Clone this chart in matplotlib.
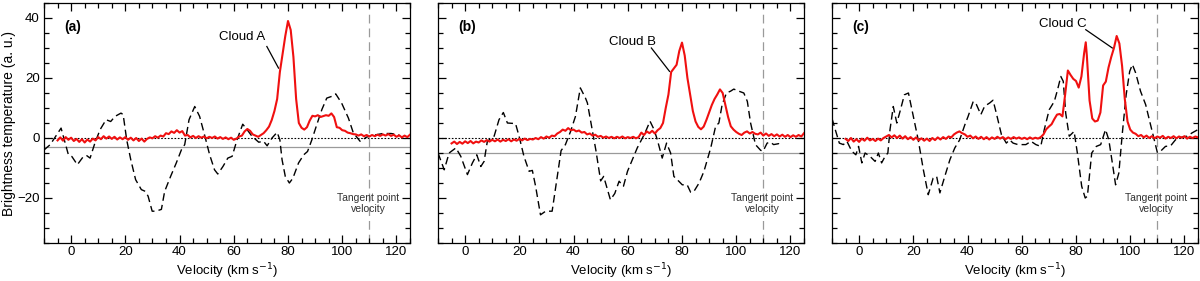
import numpy as np
import matplotlib
matplotlib.use("Agg")
import matplotlib.pyplot as plt

plt.rcParams['font.family'] = ['Liberation Sans', 'DejaVu Sans']

# ---------------- data ----------------
# red spectra: channels every 1 km/s from -5 to 125
red_vel = list(range(-5, 126))

red_tb_a = [
    -0.8, 0.2, -0.9, 0.3, -0.6, 0.1, -1.0, -0.3, -1.3, -0.4,     # -5..4
    -1.5, -0.5, -1.2, -0.2, -0.8, 0.3, -0.4, 0.6, -0.2, 0.5,     # 5..14
    -0.3, 0.4, -0.5, 0.2, -0.4, 0.3, -0.6, 0.1, -0.8, 0.0,       # 15..24
    -1.0, -0.2, -1.2, -0.3, 0.2, -0.1, 0.6, 0.1, 0.8, 0.5,       # 25..34
    1.6, 1.3, 2.2, 1.7, 2.6, 1.8, 2.3, 0.8, 1.0, 0.2,            # 35..44
    0.7, 0.0, 0.6, 0.1, 0.5, -0.1, 0.4, 0.0, 0.5, -0.2,          # 45..54
    0.3, -0.3, 0.2, -0.4, 0.1, -0.6, -0.2, 0.5, 0.8, 2.2,        # 55..64
    3.0, 2.4, 1.2, 0.8, 0.4, 1.0, 1.6, 2.6, 3.8, 6.0,            # 65..74
    9.0, 13.0, 22.0, 28.0, 34.0, 39.0, 36.0, 27.0, 13.0, 5.0,    # 75..84
    3.4, 2.8, 3.6, 5.8, 7.4, 7.2, 7.6, 7.0, 7.3, 7.6,            # 85..94
    7.4, 8.2, 7.0, 3.6, 3.4, 2.6, 2.4, 1.8, 1.6, 1.3,            # 95..104
    1.2, 0.8, 1.2, 0.6, 1.0, 0.5, 1.0, 0.6, 1.1, 0.7,            # 105..114
    1.2, 0.8, 1.3, 0.7, 1.1, 0.4, 0.9, 0.2, 0.8, 0.3,            # 115..124
    1.1,                                                         # 125
]

red_tb_b = [
    -1.8, -1.2, -2.0, -1.3, -1.9, -1.1, -1.7, -1.0, -1.8, -1.2,
    -1.5, -0.8, -1.3, -0.7, -1.2, -0.6, -1.1, -0.5, -1.2, -0.6,
    -1.0, -0.4, -1.1, -0.5, -0.9, -0.3, -0.8, -0.2, -0.7, -0.3,
    -0.5, 0.0, -0.4, 0.3, -0.2, 0.5, 0.1, 0.8, 0.6, 1.5,
    2.0, 2.8, 2.4, 3.3, 2.6, 2.8, 2.2, 2.5, 1.8, 2.0,
    1.2, 1.5, 0.8, 1.1, 0.4, 0.7, 0.1, 0.5, 0.0, 0.4,
    -0.1, 0.4, 0.0, 0.5, -0.1, 0.3, 0.0, 0.4, -0.1, 0.3,
    1.8, 1.0, 2.2, 1.6, 2.4, 1.5, 2.6, 3.3, 5.0, 10.0,
    14.5, 22.0, 23.2, 24.4, 29.0, 31.8, 27.5, 20.0, 14.5, 9.0,
    5.5, 3.7, 2.9, 3.8, 6.0, 8.5, 11.0, 13.0, 14.5, 16.2,
    15.0, 11.0, 7.0, 3.9, 2.8, 2.0, 1.4, 1.0, 1.8, 2.2,
    1.5, 2.0, 1.4, 1.2, 1.8, 0.8, 1.5, 0.7, 1.3, 0.6,
    1.2, 0.5, 1.1, 0.4, 1.0, 0.3, 0.9, 0.4, 1.0, 0.5,
    1.6,
]

red_tb_c = [
    -0.3, -1.0, 0.0, -1.2, -0.4, -1.3, -0.2, -0.9, 0.1, -0.8,
    -0.3, -1.0, -0.2, -0.8, 0.0, 0.5, 1.0, 0.2, 0.9, 0.0,
    0.8, -0.2, 0.6, -0.4, 0.3, -0.6, 0.2, -0.8, -0.1, -0.9,
    -0.2, -1.0, 0.0, -0.7, 0.2, -0.5, 0.3, -0.3, 0.5, 0.2,
    1.2, 1.8, 2.2, 1.6, 1.2, 0.4, 0.8, -0.1, 0.5, -0.3,
    0.4, -0.4, 0.3, -0.5, 0.2, -0.3, 0.4, -0.2, 0.3, -0.4,
    0.2, -0.3, 0.3, -0.2, 0.2, -0.3, 0.1, -0.4, 0.2, -0.3,
    0.1, -0.2, 0.3, 1.2, 2.9, 3.8, 4.6, 6.3, 7.8, 8.0,
    7.2, 14.5, 22.5, 21.0, 19.7, 19.0, 16.8, 20.5, 28.3, 27.5,
    12.5, 6.5, 5.5, 5.8, 8.5, 17.5, 18.8, 23.5, 27.0, 30.0,
    34.0, 31.5, 24.0, 13.0, 5.5, 2.8, 1.8, 1.4, 0.6, 1.0,
    0.2, 0.8, 0.0, 0.6, -0.1, 0.5, 0.1, 0.7, -0.2, 0.4,
    0.0, 0.6, -0.1, 0.5, 0.1, 0.6, -0.2, 0.4, 0.0, 0.5,
    0.2,
]
# extra channel on the narrow peak of panel (c)
red_extra_vel_c = [83.6]
red_extra_tb_c = [31.9]

# black dashed spectra
dash_vel_a = [-10, -7.7, -3.7, -1.0, 0.3, 2.3, 4.5, 5.8, 7.0, 8.8, 10.7, 12.9, 14.6,
              16.2, 18.4, 19.2, 20.5, 22.0, 23.8, 25.9, 27.4, 28.4, 29.9, 31.2, 33.3,
              34.5, 36.7, 38.8, 40.7, 41.9, 43.5, 45.6, 47.4, 49.2, 51.1, 52.9, 54.1,
              56.0, 57.8, 59.4, 61.2, 63.3, 64.9, 66.7, 69.2, 71.0, 72.3, 74.1, 76.0,
              77.0, 77.8, 79.0, 80.5, 81.8, 83.9, 85.8, 87.2, 88.8, 90.6, 92.5, 94.3,
              96.2, 97.6, 99.8, 102.3, 104.1, 106.6, 109.0, 112, 115, 118, 121]
dash_tb_a = [-4.0, -2.2, 3.3, -5.6, -6.2, -8.9, -6.2, -5.9, -6.7, -1.6, 2.8, 6.1, 5.5,
             7.2, 8.3, 7.8, -0.6, -7.2, -13.9, -17.2, -17.8, -19.4, -24.4, -24.4, -23.8,
             -17.8, -12.8, -8.3, -3.9, -2.2, 6.1, 10.5, 7.2, 1.1, -5.6, -10.6, -12.0,
             -9.5, -6.7, -6.1, -0.6, 4.6, 2.8, 0.6, -1.4, -1.1, -2.6, 0.0, 1.9,
             -0.6, -7.2, -12.8, -15.0, -13.4, -8.3, -5.6, -4.5, -0.6, 4.4, 9.5, 13.3,
             13.9, 14.7, 11.6, 6.6, 1.7, -1.1, 0.3, 1.0, 1.5, 1.5, 1.0]

dash_vel_b = [-10, -7.7, -5.9, -3.4, -1.6, 0.85, 2.7, 4.3, 5.8, 7.0, 8.2, 10.7, 12.5,
              14.1, 15.6, 18.6, 19.9, 21.7, 23.6, 24.8, 26.0, 27.8, 29.7, 32.1, 34.0,
              35.4, 37.0, 38.9, 40.7, 42.5, 44.4, 45.1, 48.2, 50.0, 51.1, 53.6, 55.2,
              56.8, 58.4, 59.9, 61.7, 63.5, 65.4, 66.6, 68.2, 69.7, 70.9, 72.7, 74.3,
              75.8, 77.0, 78.8, 80.1, 81.9, 83.2, 84.4, 86.3, 88.1, 90.6, 92.4, 93.6,
              94.8, 96.4, 97.9, 99.1, 101.0, 102.8, 104.1, 105.3, 107.1, 109.0, 109.9,
              111.4, 112.6, 113.8, 115.6, 116.2]
dash_tb_b = [-5.0, -10.6, -5.0, -3.3, -6.1, -12.2, -8.3, -5.6, -9.5, -7.8, -1.1, 0.6, 6.1,
             8.5, 5.0, 4.8, 0.6, -6.1, -11.1, -10.8, -16.1, -25.6, -24.4, -24.4, -12.8,
             -4.2, -2.2, 2.2, 7.2, 16.7, 13.3, 11.7, -3.9, -14.3, -12.8, -20.6, -18.5,
             -14.4, -16.1, -11.1, -7.2, -3.3, 0.0, 2.2, 5.6, 2.8, -0.6, -6.7, -1.7,
             -5.0, -12.8, -14.4, -15.6, -15.6, -18.1, -17.8, -15.0, -11.1, -3.3, 3.9, 5.0,
             11.1, 15.0, 15.6, 16.3, 15.6, 15.0, 12.2, 5.0, -2.2, -4.1, -4.4,
             -1.7, -1.4, -2.2, -1.9, -0.6]

dash_vel_c = [-10, -8.8, -7.3, -5.8, -4.5, -2.7, -1.2, -0.2, 1.0, 2.2, 4.0, 5.9, 7.1,
              8.3, 9.6, 10.6, 11.4, 12.6, 13.9, 15.1, 16.7, 18.2, 20.0, 21.8, 23.7,
              25.5, 27.3, 28.6, 29.8, 31.6, 33.5, 35.3, 37.1, 39.0, 40.2, 42.1, 43.3,
              44.9, 46.3, 48.2, 49.4, 50.6, 52.5, 54.3, 55.5, 56.8, 58.6, 61.5, 63.4,
              65.2, 67.0, 68.3, 70.1, 72.0, 73.2, 74.4, 75.3, 76.2, 77.5, 79.3, 80.5,
              82.1, 83.4, 84.2, 85.8, 87.5, 89.1, 90.9, 92.1, 93.4, 94.6, 95.8, 97.1,
              98.5, 99.8, 100.8, 102.0, 103.8, 105.7, 107.5, 108.7, 110.0, 111.2, 113.0,
              114.9, 116.7, 119.1, 121.0, 122.8, 125]
dash_tb_c = [6.5, 2.8, -1.7, -2.2, -1.1, -4.4, -5.6, -2.8, -8.3, -5.0, -6.1, -7.8, -5.0,
             -8.3, -6.1, -5.0, 2.8, 10.5, 5.0, 8.9, 14.4, 15.0, 7.2, -0.6, -10.6,
             -18.9, -13.4, -12.8, -18.3, -12.8, -7.2, -3.3, -0.6, 4.4, 7.2, 12.2, 11.1,
             7.8, 10.6, 11.7, 12.6, 8.3, 1.1, -1.7, -0.6, -1.7, -2.2, -2.2, -1.1,
             -2.2, -2.8, 2.8, 9.4, 12.2, 16.1, 20.5, 18.9, 8.3, 0.6, 2.2, -5.0,
             -16.1, -20.0, -19.4, -5.0, -2.8, -2.2, 2.8, -0.6, -8.3, -15.6, -11.7, 1.7,
             14.4, 22.2, 24.5, 21.7, 15.6, 11.1, 4.4, 0.0, -4.8, -4.4, -2.8,
             -2.6, -0.6, 0.3, 0.6, 1.7, 2.8]

panel_labels = ['(a)', '(b)', '(c)']
cloud_names = ['Cloud A', 'Cloud B', 'Cloud C']
baseline_levels = [-3, -5, -5]
tangent_velocity = 110

# annotation geometry (data coords): text position, line start, line end
cloud_text_xy = [(63, 33.5), (61.7, 32.0), (75.0, 38.0)]
cloud_line_start = [(72.2, 30.5), (68.7, 30.0), (83.6, 36.1)]
cloud_line_end = [(76.5, 23.3), (75.4, 22.2), (93.4, 30.0)]

# ---------------- plotting ----------------
W, H = 1200, 281
fig = plt.figure(figsize=(W / 100, H / 100), dpi=100)
lefts = [44, 438, 832]
aw = 366
bottom_px, top_px = 243, 3

def merge(v, t, ev, et):
    v = np.concatenate([np.asarray(v, float), ev])
    t = np.concatenate([np.asarray(t, float), et])
    o = np.argsort(v)
    return v[o], t[o]

reds = [
    (np.array(red_vel, float), np.array(red_tb_a)),
    (np.array(red_vel, float), np.array(red_tb_b)),
    merge(red_vel, red_tb_c, red_extra_vel_c, red_extra_tb_c),
]
dashes = [(dash_vel_a, dash_tb_a), (dash_vel_b, dash_tb_b), (dash_vel_c, dash_tb_c)]

for i in range(3):
    ax = fig.add_axes([lefts[i] / W, 1 - bottom_px / H, aw / W, (bottom_px - top_px) / H])
    ax.set_xlim(-10, 125)
    ax.set_ylim(-35, 45)

    ax.axhline(0, color='black', lw=0.8, ls=(0, (1.5, 1.5)), zorder=1)
    ax.axhline(baseline_levels[i], color='#9a9a9a', lw=0.9, zorder=1)
    ax.axvline(tangent_velocity, color='#9a9a9a', lw=0.9, ls=(0, (7, 4)), zorder=1)

    dv, dt = dashes[i]
    ax.plot(dv, dt, color='black', lw=1.0, ls=(0, (5.5, 3)), zorder=2)
    rv, rt = reds[i]
    ax.plot(rv, rt, color='#f01010', lw=1.5, zorder=3)

    ax.set_xticks([0, 20, 40, 60, 80, 100, 120])
    ax.set_xticks(np.arange(-10, 126, 5), minor=True)
    ax.set_yticks([-20, 0, 20, 40])
    ax.set_yticks(np.arange(-35, 46, 5), minor=True)
    ax.tick_params(which='both', direction='in', top=True, right=True,
                   labelsize=9.5, colors='black')
    ax.tick_params(axis='x', pad=2)
    ax.tick_params(axis='y', pad=3)
    ax.tick_params(which='major', length=6, width=0.9)
    ax.tick_params(which='minor', length=3.5, width=0.9)
    for s in ax.spines.values():
        s.set_linewidth(0.9)
    if i == 0:
        ax.set_ylabel('Brightness temperature (a. u.)', fontsize=10, labelpad=1)
    else:
        ax.tick_params(labelleft=False)
    ax.set_xlabel('Velocity (km s$^{-1}$)', fontsize=9.5)
    ax.xaxis.set_label_coords(0.5, -0.075)

    ax.text(0.055, 0.93, panel_labels[i], transform=ax.transAxes, fontsize=10,
            fontweight='bold', ha='left', va='top')
    tx, ty = cloud_text_xy[i]
    ax.text(tx, ty, cloud_names[i], fontsize=9.5, ha='center', va='center')
    (x0, y0), (x1, y1) = cloud_line_start[i], cloud_line_end[i]
    ax.plot([x0, x1], [y0, y1], color='black', lw=0.9)
    ax.text(109.5, -21.8, 'Tangent point\nvelocity', fontsize=7.5, color='#333333',
            ha='center', va='center', linespacing=1.1)

fig.savefig('out.png', dpi=100)
